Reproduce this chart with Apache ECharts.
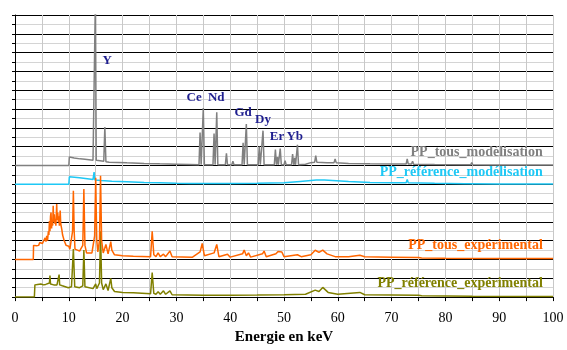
<!DOCTYPE html>
<html>
<head>
<meta charset="utf-8">
<script src="https://cdn.jsdelivr.net/npm/echarts@6/dist/echarts.min.js"></script>
<style>
  html, body { margin: 0; padding: 0; background: #fff; }
  #chart { width: 567px; height: 350px; }
</style>
</head>
<body>
<div id="chart"></div>
<script>
// spectres : [énergie keV, intensité au-dessus de la ligne de base]
const tousModelisation = [
  [0, 0], [10.0, 0], [10.1, 0.9], [11, 0.8], [12.1, 0.7], [13, 0.65], [14.5, 0.56], [14.8, 0.6],
  [14.95, 18], [15.1, 0.55], [16.5, 0.45], [16.7, 4.1], [16.9, 0.4], [17.5, 0.35], [20.8, 0.28],
  [24, 0.22], [26.9, 0.17], [30, 0.13], [32.5, 0.1], [34.2, 0.08], [34.4, 3.5], [34.6, 0.08],
  [34.8, 0.08], [35.0, 6.1], [35.2, 0.08], [36.8, 0.08], [37.0, 3.4], [37.2, 0.08], [37.35, 0.08],
  [37.5, 5.65], [37.7, 0.08], [39.1, 0.08], [39.3, 1.3], [39.5, 0.08], [40.3, 0.08], [40.5, 0.45],
  [40.7, 0.07], [42.2, 0.07], [42.4, 2.4], [42.6, 0.07], [42.8, 0.07], [43.0, 4.4], [43.2, 0.07],
  [45.2, 0.07], [45.4, 2.0], [45.6, 0.07], [45.9, 0.07], [46.1, 3.7], [46.3, 0.07], [48.2, 0.07],
  [48.4, 1.7], [48.6, 0.07], [48.7, 0.07], [48.8, 0.9], [48.95, 0.07], [49.1, 0.07], [49.3, 1.8],
  [49.5, 0.07], [50.0, 0.07], [50.2, 0.5], [50.4, 0.07], [51.4, 0.07], [51.6, 1.2], [51.8, 0.07],
  [51.9, 0.07], [52.0, 0.8], [52.15, 0.07], [52.3, 0.07], [52.5, 2.2], [52.7, 0.07], [54, 0.12],
  [55, 0.3], [55.7, 0.35], [55.9, 1.05], [56.1, 0.35], [58, 0.3], [59.3, 0.3], [59.5, 0.7],
  [59.7, 0.3], [62, 0.22], [66, 0.18], [70, 0.15], [72.7, 0.15], [72.9, 0.7], [73.1, 0.15],
  [73.7, 0.15], [73.9, 0.45], [74.1, 0.14], [78, 0.1], [84.7, 0.07], [84.9, 0.3], [85.1, 0.07],
  [90, 0.05], [100, 0.04]
];
const referenceModelisation = [
  [0, 0], [10.0, 0], [10.1, 0.8], [12, 0.7], [14.5, 0.5], [14.6, 0.5], [14.7, 1.3], [14.85, 0.45],
  [16, 0.4], [18, 0.33], [20.8, 0.27], [24, 0.2], [26.9, 0.16], [30, 0.11], [32.5, 0.08], [40, 0.08],
  [45, 0.1], [50, 0.15], [53, 0.3], [55, 0.4], [56, 0.45], [57.5, 0.45], [59, 0.4], [62, 0.3],
  [66, 0.2], [70, 0.15], [72.7, 0.15], [72.9, 0.5], [73.1, 0.15], [78, 0.1], [83.6, 0.06],
  [83.8, 0.25], [84, 0.06], [90, 0.04], [100, 0.02]
];
const tousExperimental = [
  [0, 0], [3.4, 0], [3.45, 1.5], [3.8, 1.6], [4.0, 1.45], [4.2, 1.6], [4.4, 1.5], [4.6, 1.8],
  [4.8, 1.6], [4.95, 2.0], [5.1, 1.7], [5.25, 1.9], [5.4, 1.6], [5.6, 2.3], [5.75, 1.9], [5.9, 2.5],
  [6.05, 2.0], [6.2, 3.0], [6.3, 2.6], [6.4, 4.1], [6.5, 3.0], [6.6, 4.6], [6.7, 5.0], [6.8, 3.3],
  [6.9, 4.2], [7.0, 3.6], [7.1, 5.7], [7.2, 4.0], [7.3, 4.8], [7.4, 3.8], [7.5, 4.3], [7.6, 3.6],
  [7.75, 5.9], [7.85, 4.2], [7.95, 5.0], [8.05, 4.0], [8.15, 4.6], [8.25, 3.6], [8.4, 5.2],
  [8.5, 3.8], [8.6, 4.0], [8.7, 3.2], [8.85, 2.6], [9.0, 2.4], [9.15, 2.0], [9.3, 1.8], [9.5, 1.5],
  [9.8, 1.3], [10.0, 1.4], [10.2, 1.1], [10.5, 1.3], [10.7, 3], [10.85, 7.3], [11.0, 3],
  [11.15, 1.1], [11.6, 1.0], [12, 0.9], [12.6, 1.5], [12.8, 7.5], [13.0, 1.5], [13.3, 0.7],
  [14.3, 0.7], [14.8, 2.5], [15.0, 8.7], [15.2, 2], [15.4, 0.8], [15.7, 2.0], [15.9, 8.9],
  [16.1, 2], [16.4, 0.7], [16.9, 1.6], [17.3, 0.6], [17.8, 1.9], [18.0, 1.0], [18.5, 0.5],
  [20, 0.4], [22, 0.35], [25.2, 0.3], [25.5, 3.0], [25.8, 0.5], [26.2, 0.3], [26.6, 0.7],
  [27.0, 0.3], [27.6, 0.56], [28.0, 0.3], [28.8, 0.9], [29.2, 0.3], [33, 0.25], [34.4, 0.8],
  [34.8, 1.7], [35.2, 0.4], [37.0, 0.7], [37.5, 1.6], [37.9, 0.3], [39.5, 0.56], [40, 0.25],
  [42.3, 0.6], [42.6, 1.0], [43.0, 0.4], [43.4, 0.7], [43.8, 0.25], [46.0, 0.6], [46.3, 0.9],
  [46.7, 0.3], [48.5, 0.6], [48.9, 0.85], [49.6, 0.8], [50.0, 0.3], [52.5, 0.5], [52.8, 0.7],
  [53.2, 0.3], [55.0, 0.5], [55.8, 0.98], [56.5, 0.75], [57.2, 1.0], [58.0, 0.6], [59.5, 0.3],
  [62, 0.3], [64.1, 0.45], [65, 0.3], [70, 0.25], [75.0, 0.2], [75.3, 0.4], [75.6, 0.15],
  [80, 0.12], [90, 0.1], [100, 0.1]
];
const referenceExperimental = [
  [0, 0], [3.6, 0], [3.7, 1.3], [4.0, 1.2], [4.2, 1.35], [4.5, 1.25], [4.8, 1.4], [5.3, 1.3],
  [5.7, 1.35], [6.0, 1.4], [6.4, 1.5], [6.5, 2.3], [6.6, 1.4], [7.2, 1.3], [7.8, 1.3], [8.1, 1.5],
  [8.2, 2.4], [8.3, 1.3], [8.8, 1.2], [9.0, 1.1], [9.9, 1.0], [10.5, 1.1], [10.85, 5.1],
  [11.1, 1.1], [12, 1.0], [12.6, 1.2], [12.8, 5.0], [13.0, 1.1], [13.3, 0.9], [14.5, 0.9],
  [15.0, 1.4], [15.2, 0.9], [15.7, 1.5], [15.9, 7.0], [16.1, 1.5], [16.4, 0.8], [16.9, 1.4],
  [17.3, 0.7], [17.8, 2.0], [18.0, 1.0], [18.5, 0.6], [20, 0.5], [22, 0.45], [25.2, 0.35],
  [25.5, 2.6], [25.8, 0.4], [26.2, 0.3], [26.6, 0.56], [27.0, 0.3], [27.6, 0.67], [28.0, 0.3],
  [28.8, 0.67], [29.2, 0.25], [35, 0.2], [40, 0.2], [45, 0.22], [50, 0.25], [54, 0.3],
  [55.8, 0.74], [56.5, 0.6], [57.2, 1.03], [58.2, 0.5], [60, 0.3], [64.1, 0.5], [65, 0.25],
  [75, 0.2], [75.3, 0.33], [75.6, 0.15], [85, 0.08], [100, 0.06]
];

const seriesNames = ['PP_tous_modélisation', 'PP_référence_modélisation', 'PP_tous_expérimental', 'PP_référence_expérimental'];
const seriesData = [tousModelisation, referenceModelisation, tousExperimental, referenceExperimental];
const seriesColors = ['#808080', '#1ec8f5', '#ff6600', '#808000'];
const offsets = [14, 12, 4, 0];
// position du nom de chaque spectre : [keV, hauteur au-dessus de la base]
const nameLabelPos = [[98.1, 1.43], [98.1, 1.3], [98.1, 1.5], [98.1, 1.48]];

// éléments identifiés : [nom, keV, ordonnée]
const elementLabels = [
  ['Y', 17.15, 25.17], ['Ce', 33.3, 21.2], ['Nd', 37.4, 21.2], ['Gd', 42.4, 19.6],
  ['Dy', 46.1, 18.9], ['Er', 48.7, 17.07], ['Yb', 52.0, 17.07]
];

const xTicks = { min: 0, max: 100, step: 5 };
const yRange = { min: 0, max: 30, step: 1 };

const chart = echarts.init(document.getElementById('chart'));

// ordre de dessin : l'orange passe par-dessus les autres
const drawOrder = [3, 1, 0, 2];
const series = drawOrder.map(i => {
  const s = {
    name: seriesNames[i],
    type: 'line',
    data: seriesData[i].map(p => [p[0], p[1] + offsets[i]]),
    showSymbol: false,
    symbol: 'none',
    lineStyle: { color: seriesColors[i], width: 1.5 },
    itemStyle: { color: seriesColors[i] },
    clip: true,
    z: 3,
    markPoint: {
      symbol: 'circle',
      symbolSize: 0,
      animation: false,
      data: [{
        coord: [nameLabelPos[i][0], nameLabelPos[i][1] + offsets[i]],
        label: {
          show: true,
          formatter: seriesNames[i],
          position: 'left',
          distance: 0,
          color: seriesColors[i],
          fontFamily: 'Liberation Serif',
          fontWeight: 'bold',
          fontSize: 14
        }
      }]
    }
  };
  if (i === 0) {
    s.markPoint.data = s.markPoint.data.concat(elementLabels.map(e => ({
      coord: [e[1], e[2]],
      label: {
        show: true,
        formatter: e[0],
        position: 'inside',
        color: '#1f1f8f',
        fontFamily: 'Liberation Serif',
        fontWeight: 'bold',
        fontSize: 13
      }
    })));
  }
  return s;
});

const option = {
  animation: false,
  grid: { left: 15, right: 14, top: 15, bottom: 52 },
  xAxis: {
    type: 'value',
    min: xTicks.min,
    max: xTicks.max,
    interval: xTicks.step,
    name: 'Energie en keV',
    nameLocation: 'middle',
    nameGap: 30,
    nameTextStyle: { fontFamily: 'Liberation Serif', fontWeight: 'bold', fontSize: 15, color: '#000' },
    axisLine: { lineStyle: { color: '#000', width: 1 } },
    axisTick: { length: 4, lineStyle: { color: '#000' } },
    axisLabel: {
      margin: 14,
      fontFamily: 'Liberation Serif',
      fontSize: 14,
      color: '#000',
      formatter: v => (v % 10 === 0 ? String(v) : '')
    },
    splitLine: { show: true, lineStyle: { color: '#c8c8c8', width: 1 } }
  },
  yAxis: {
    type: 'value',
    min: yRange.min,
    max: yRange.max,
    interval: yRange.step,
    axisLine: { show: true, lineStyle: { color: '#000', width: 1 } },
    axisTick: { show: true, length: 3, lineStyle: { color: '#000' } },
    axisLabel: { show: false },
    splitLine: { show: true, lineStyle: { color: ['#000', '#d4d4d4'], width: 1 } }
  },
  series: series
};

chart.setOption(option);
</script>
</body>
</html>
